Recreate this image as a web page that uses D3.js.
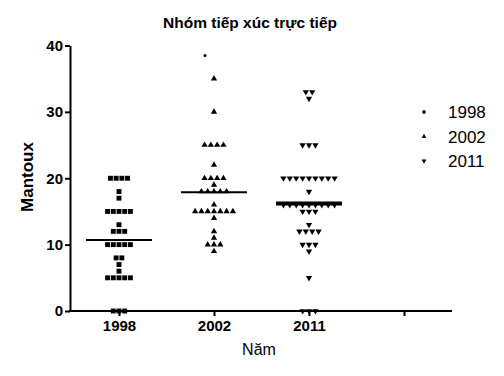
<!DOCTYPE html>
<html>
<head>
    <meta charset="utf-8">
    <script src="https://d3js.org/d3.v7.min.js"></script>
    <style>
        * { margin: 0; padding: 0; }
        body { width: 504px; height: 376px; background: #fff; overflow: hidden; }
        text { font-family: "Liberation Sans", Arial, sans-serif; fill: #000; }
    </style>
</head>
<body>
<div id="chart"></div>
<script>
    // categories on the x axis (last one is empty in the original)
    let groups = ["1998", "2002", "2011", ""];
    let yTicks = [0, 10, 20, 30, 40];

    // Mantoux values
    let v1998 = [20, 20, 20, 20, 18, 17, 15, 15, 15, 15, 15, 13, 12, 12, 12,
        10, 10, 10, 10, 10, 8, 8, 7, 6, 5, 5, 5, 5, 5, 0, 0, 0];
    let v2002 = [35, 30, 25, 25, 25, 25, 22, 20, 20, 20, 20, 19,
        18, 18, 18, 18, 18, 16, 15, 15, 15, 15, 15, 15, 15, 14, 12, 11, 10, 10, 10, 9];
    let v2002top = [38.5]; // drawn as a tiny dot at the top
    let v2011 = [33, 33, 32, 25, 25, 25, 20, 20, 20, 20, 20, 20, 20, 20, 20, 18,
        16, 16, 16, 16, 16, 16, 16, 16, 16, 15, 15, 15, 13, 12, 12, 12, 12,
        10, 10, 10, 9, 5, 0, 0, 0];
    // horizontal lines (means) as drawn
    let means = [10.7, 17.9, 16.2];

    let series = [
        { name: "1998", values: v1998, symbol: d3.symbolSquare, size: 24, gap: 5.7, line: 2 },
        { name: "2002", values: v2002, symbol: d3.symbolTriangle, size: 17, gap: 6.3, line: 2 },
        { name: "2011", values: v2011, symbol: d3.symbolTriangle, size: 17, gap: 6.4, flip: true, line: 4 }
    ];

    let svg = d3.select("#chart").append("svg")
        .attr("width", 504)
        .attr("height", 376);

    let x = d3.scalePoint()
        .domain(groups)
        .range([119, 404]);

    let y = d3.scaleLinear()
        .domain([0, 40])
        .range([311, 45.5]);

    // y axis
    let gy = svg.append("g")
        .attr("transform", "translate(70,0)")
        .call(d3.axisLeft(y).tickValues(yTicks).tickSize(5).tickPadding(2).tickSizeOuter(0));
    gy.select(".domain").attr("stroke-width", 2);
    gy.selectAll(".tick line").attr("stroke-width", 2);
    gy.selectAll(".tick text")
        .style("font-size", "15px")
        .style("font-weight", "bold")
        .attr("fill", "#000");

    // x axis
    let gx = svg.append("g")
        .attr("transform", "translate(0,311)")
        .call(d3.axisBottom(x).tickSize(5).tickPadding(4).tickSizeOuter(0));
    gx.select(".domain").attr("d", "M69,0H452").attr("stroke-width", 2);
    gx.selectAll(".tick line").attr("stroke-width", 2);
    gx.selectAll(".tick text")
        .style("font-size", "15px")
        .style("font-weight", "bold")
        .attr("fill", "#000");

    // points, arranged in centred rows per value
    series.forEach((s, i) => {
        let rows = d3.groups(s.values, d => d);
        let pts = [];
        rows.forEach(([val, arr]) => {
            arr.forEach((d, j) => {
                pts.push({ v: val, off: (j - (arr.length - 1) / 2) * s.gap });
            });
        });
        svg.append("g").selectAll("path")
            .data(pts)
            .join("path")
            .attr("d", d3.symbol().type(s.symbol).size(s.size))
            .attr("transform", d => "translate(" + (x(s.name) + d.off) + "," + y(d.v) + ")" + (s.flip ? " rotate(180)" : ""))
            .attr("fill", "#000");

        svg.append("line")
            .attr("x1", x(s.name) - 33)
            .attr("x2", x(s.name) + 33)
            .attr("y1", y(means[i]))
            .attr("y2", y(means[i]))
            .attr("stroke", "#000")
            .attr("stroke-width", s.line);
    });

    svg.selectAll(".topdot")
        .data(v2002top)
        .join("circle")
        .attr("cx", x("2002") - 9)
        .attr("cy", d => y(d))
        .attr("r", 1.5)
        .attr("fill", "#000");

    // title and axis labels
    svg.append("text")
        .attr("x", 250)
        .attr("y", 28)
        .attr("text-anchor", "middle")
        .style("font-size", "15.5px")
        .style("font-weight", "bold")
        .text("Nhóm tiếp xúc trực tiếp");

    svg.append("text")
        .attr("x", 259)
        .attr("y", 355)
        .attr("text-anchor", "middle")
        .style("font-size", "16px")
        .text("Năm");

    svg.append("text")
        .attr("transform", "translate(33,177) rotate(-90)")
        .attr("text-anchor", "middle")
        .style("font-size", "17px")
        .style("font-weight", "bold")
        .text("Mantoux");

    // legend
    let legendY = [112, 136.5, 161];
    series.forEach((s, i) => {
        svg.append("path")
            .attr("d", d3.symbol().type(s.symbol).size(10))
            .attr("transform", "translate(424," + legendY[i] + ")" + (s.flip ? " rotate(180)" : ""))
            .attr("fill", "#000");
        svg.append("text")
            .attr("x", 448)
            .attr("y", legendY[i] + 6)
            .style("font-size", "17px")
            .text(s.name);
    });
</script>
</body>
</html>
